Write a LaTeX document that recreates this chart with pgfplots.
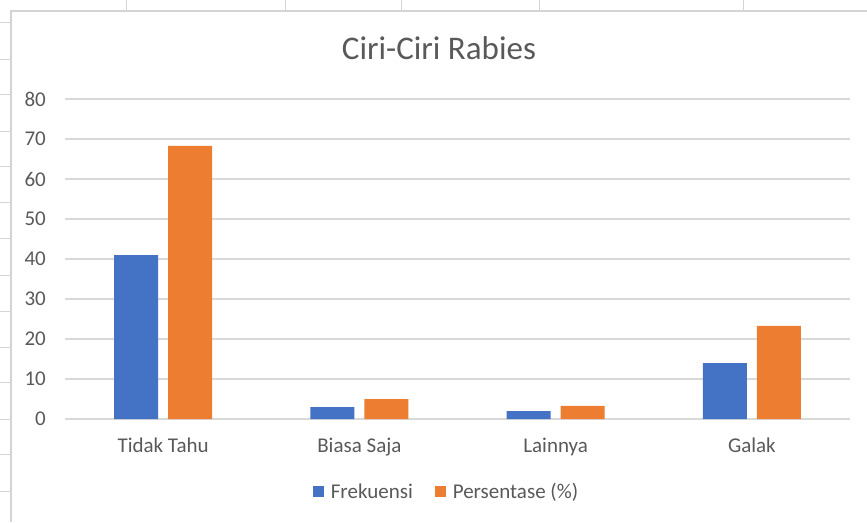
\documentclass[border=0pt]{standalone}
\usepackage{pgfplots}
\pgfplotsset{compat=1.18}
\usepackage{fontspec}
\setmainfont{Carlito}
\definecolor{xblue}{HTML}{4472C4}
\definecolor{xorange}{HTML}{ED7D31}
\definecolor{xtext}{HTML}{595959}
\definecolor{xgrid}{HTML}{D9D9D9}
\definecolor{xsheet}{HTML}{D4D4D4}
\begin{document}
\begin{tikzpicture}[x=1pt,y=1pt]
\useasboundingbox (0,0) rectangle (867,522);
% spreadsheet background lines
\foreach \xx in {126,285,401,539,743} \draw[xsheet, line width=1pt] (\xx,522) -- (\xx,511);
\foreach \yy in {23,60,95,132,167,203,239,276,312,348,383,420,455,491} \draw[xsheet, line width=1pt] (0,522-\yy) -- (11,522-\yy);
\draw[xsheet, line width=1.2pt] (11,0) -- (11,511) -- (867,511);
\node[font=\fontsize{33}{38}\selectfont, text=xtext] at (439,522-48) {Ciri-Ciri Rabies};
\begin{axis}[
  at={(65pt,103pt)}, anchor=south west,
  scale only axis, width=785pt, height=320pt,
  ybar=10pt, bar width=44pt,
  xmin=-0.5, xmax=3.5, ymin=0, ymax=80,
  xtick={0,1,2,3},
  xticklabels={Tidak Tahu, Biasa Saja, Lainnya, Galak},
  ytick={0,10,...,80},
  /pgf/number format/assume math mode=true,
  major tick length=0pt,
  axis line style={draw=none},
  ymajorgrids, grid style={xgrid, line width=1.4pt},
  tick label style={font=\fontsize{21}{25}\selectfont, text=xtext},
  yticklabel style={anchor=east, inner sep=0pt, xshift=-19pt},
  xticklabel style={anchor=base, inner sep=0pt, yshift=-33pt},
  legend style={at={(0.486,-0.228)}, anchor=center, draw=none,
    font=\fontsize{21}{25}\selectfont, text=xtext, legend columns=2,
    /tikz/every odd column/.append style={column sep=5pt},
    /tikz/every even column/.append style={column sep=20pt}},
  legend cell align=left,
  clip=false,
]
\addplot[fill=xblue, draw=none, legend image code/.code={\fill[xblue] (0pt,-5.5pt) rectangle (11pt,5.5pt);}]
  coordinates {(0,41) (1,3) (2,2) (3,14)};
\addplot[fill=xorange, draw=none, legend image code/.code={\fill[xorange] (0pt,-5.5pt) rectangle (11pt,5.5pt);}]
  coordinates {(0,68.3) (1,5) (2,3.3) (3,23.3)};
\legend{Frekuensi, Persentase (\%)}
\end{axis}
\end{tikzpicture}
\end{document}
